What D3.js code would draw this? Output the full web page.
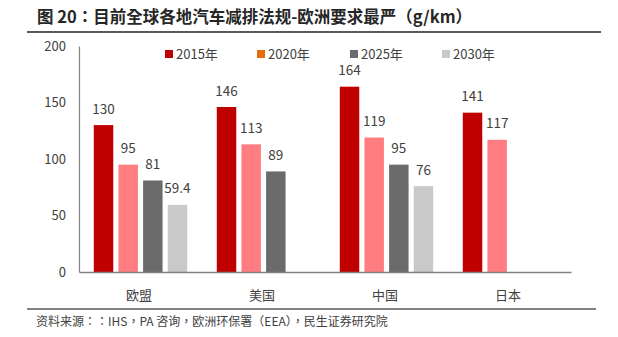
<!DOCTYPE html>
<html>
<head>
<meta charset="utf-8">
<script src="https://cdn.jsdelivr.net/npm/d3@7/dist/d3.min.js"></script>
<style>
  html, body { margin: 0; padding: 0; background: #fff; }
  svg { display: block; font-family: "Noto Sans CJK SC", "Noto Sans", sans-serif; }
  .cjk-centered { font-family: "Noto Sans CJK TC", "Noto Sans CJK SC", sans-serif; }
</style>
</head>
<body>
<svg id="chart" width="618" height="337"></svg>
<script>
// Regions and target years
const categories = ["欧盟", "美国", "中国", "日本"];
const seriesNames = ["2015年", "2020年", "2025年", "2030年"];

// CO2 emission limits, g/km (null = no target)
const values2015 = [130, 146, 164, 141];
const values2020 = [95, 113, 119, 117];
const values2025 = [81, 89, 95, null];
const values2030 = [59.4, null, 76, null];

const yTicks = [0, 50, 100, 150, 200];

const barColors = ["#C00000", "#FF7C80", "#6B6B6B", "#C9C9C9"];
const legendColors = ["#C00000", "#E46C0A", "#6B6B6B", "#C9C9C9"];

const titleText = "图 20：目前全球各地汽车减排法规-欧洲要求最严（g/km）";
const sourceText = "资料来源：：IHS，PA 咨询，欧洲环保署（EEA），民生证券研究院";

const seriesValues = [values2015, values2020, values2025, values2030];

const svg = d3.select("#chart");
const textColor = "#404040";

// Title and rules
svg.append("text")
  .attr("class", "cjk-centered")
  .attr("x", 37).attr("y", 23)
  .attr("font-size", 16.5).attr("font-weight", "bold")
  .attr("fill", "#262626")
  .text(titleText);
svg.append("line")
  .attr("x1", 27).attr("x2", 601).attr("y1", 32).attr("y2", 32)
  .attr("stroke", "#595959").attr("stroke-width", 2);
svg.append("line")
  .attr("x1", 27).attr("x2", 596).attr("y1", 309).attr("y2", 309)
  .attr("stroke", "#595959").attr("stroke-width", 1.5);
svg.append("text")
  .attr("class", "cjk-centered")
  .attr("x", 36).attr("y", 326)
  .attr("font-size", 12)
  .attr("fill", textColor)
  .text(sourceText);

// Scales
const x0 = d3.scaleBand().domain(categories).range([79, 571]).padding(0);
const x1 = d3.scaleBand().domain(seriesNames).range([0, x0.bandwidth()])
  .paddingInner(0.21).paddingOuter(0.6);
const y = d3.scaleLinear().domain([0, 200]).range([272, 46]);

// Y axis: line and labels, no tick marks
const yAxis = svg.append("g")
  .attr("transform", "translate(79,0)")
  .call(d3.axisLeft(y).tickValues(yTicks).tickSize(0).tickPadding(13));
yAxis.select(".domain").attr("stroke", "#808080").attr("stroke-width", 1.2);
yAxis.selectAll("text")
  .attr("font-size", 13).attr("fill", textColor)
  .style("font-family", "'Noto Sans CJK SC', sans-serif");

// Bars
const rows = [];
categories.forEach((c, i) => {
  seriesNames.forEach((s, j) => {
    const v = seriesValues[j][i];
    if (v != null) rows.push({ cat: c, series: s, idx: j, value: v });
  });
});

svg.append("g").selectAll("rect")
  .data(rows)
  .join("rect")
  .attr("x", d => x0(d.cat) + x1(d.series))
  .attr("y", d => y(d.value))
  .attr("width", x1.bandwidth())
  .attr("height", d => y(0) - y(d.value))
  .attr("fill", d => barColors[d.idx]);

// Value labels
svg.append("g").selectAll("text")
  .data(rows)
  .join("text")
  .attr("x", d => x0(d.cat) + x1(d.series) + x1.bandwidth() / 2)
  .attr("y", d => y(d.value) - 11.5)
  .attr("text-anchor", "middle")
  .attr("font-size", 13.5)
  .attr("fill", textColor)
  .text(d => String(d.value));

// X axis
const xAxis = svg.append("g")
  .attr("transform", "translate(0,272)")
  .call(d3.axisBottom(x0).tickSize(0).tickPadding(0));
xAxis.select(".domain").attr("stroke", "#808080").attr("stroke-width", 1.5);
xAxis.selectAll("text")
  .attr("x", -1.5)
  .attr("y", 27.5).attr("dy", null)
  .attr("font-size", 13).attr("fill", textColor)
  .style("font-family", "'Noto Sans CJK SC', sans-serif");

// Legend
const legendX = [165, 257, 350, 442];
const legend = svg.append("g").selectAll("g")
  .data(seriesNames)
  .join("g")
  .attr("transform", (d, i) => `translate(${legendX[i]},50)`);
legend.append("rect")
  .attr("width", 8).attr("height", 8)
  .attr("fill", (d, i) => legendColors[i]);
legend.append("text")
  .attr("x", 11).attr("y", 8.5)
  .attr("font-size", 13).attr("fill", textColor)
  .text(d => d);
</script>
</body>
</html>
